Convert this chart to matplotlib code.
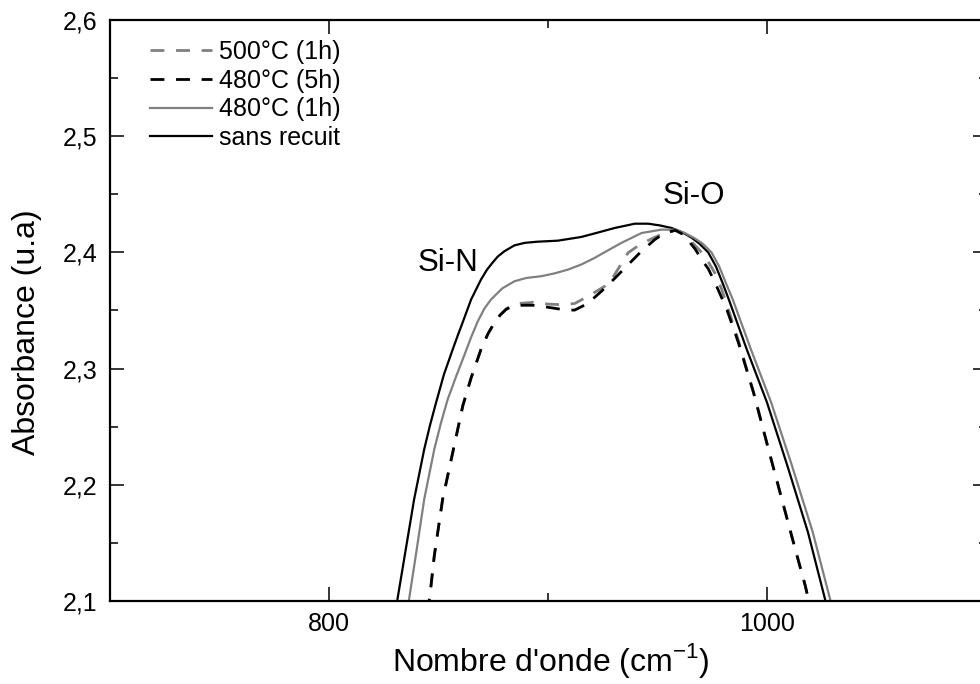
import matplotlib
matplotlib.use("Agg")
import matplotlib.pyplot as plt
from matplotlib.ticker import MultipleLocator, FuncFormatter

plt.rcParams["font.family"] = ["Liberation Sans", "DejaVu Sans"]
plt.rcParams["mathtext.fontset"] = "custom"
plt.rcParams["mathtext.rm"] = "Liberation Sans"

# Spectra (wavenumber in cm-1, absorbance)
x_sans = [829.5, 831.2, 835.0, 838.8, 843.4, 846.0, 848.7, 852.4, 856.4, 858.6, 860.6,
          864.8, 869.3, 872.0, 874.5, 877.0, 880.0, 884.5, 889.2, 895.0, 904.4, 915.1,
          922.5, 930.3, 939.5, 945.6, 951.0, 956.3, 961.0, 965.4, 969.0, 973.0, 976.5,
          979.5, 982.4, 990.6, 999.8, 1009.2, 1018.5, 1026.3, 1028.0]
y_sans = [2.080, 2.1017, 2.1447, 2.1876, 2.2306, 2.2510, 2.2700, 2.2950, 2.3165, 2.3280,
          2.3380, 2.3595, 2.3766, 2.3850, 2.3910, 2.3965, 2.4010, 2.4060, 2.4082, 2.4092,
          2.4101, 2.4133, 2.4170, 2.4210, 2.4247, 2.4247, 2.4232, 2.4210, 2.4175, 2.4127,
          2.4075, 2.4000, 2.3880, 2.3740, 2.3595, 2.3165, 2.2710, 2.2160, 2.1593, 2.1017,
          2.088]

x_480_1h = [834.8, 836.5, 840.0, 843.4, 848.0, 851.0, 854.1, 858.0, 861.7, 864.8, 867.8,
            870.8, 873.9, 879.0, 884.6, 890.0, 896.8, 903.0, 909.0, 915.0, 921.2, 927.0,
            933.4, 942.6, 951.7, 957.7, 962.0, 966.5, 970.5, 974.5, 978.0, 981.0, 984.2,
            992.5, 1001.7, 1011.3, 1020.7, 1028.6, 1030.3]
y_480_1h = [2.080, 2.1017, 2.1447, 2.1876, 2.2306, 2.2530, 2.2735, 2.2935, 2.3115, 2.3270,
            2.3405, 2.3515, 2.3595, 2.3690, 2.3752, 2.3780, 2.3795, 2.3820, 2.3852, 2.3895,
            2.3953, 2.4015, 2.4082, 2.4167, 2.4196, 2.4196, 2.4170, 2.4125, 2.4075, 2.4000,
            2.3880, 2.3740, 2.3595, 2.3165, 2.2710, 2.2160, 2.1593, 2.1017, 2.088]

x_480_5h = [845.0, 846.5, 848.0, 851.8, 856.4, 861.0, 864.8, 869.3, 872.5, 875.4, 878.0,
            880.8, 883.5, 886.1, 893.0, 899.8, 906.0, 912.0, 918.0, 924.3, 930.0, 935.7,
            942.0, 948.6, 953.2, 958.0, 961.0, 964.0, 967.0, 970.0, 973.0, 976.1, 981.5,
            986.8, 993.7, 1000.5, 1006.6, 1012.7, 1017.3, 1019.5]
y_480_5h = [2.090, 2.1132, 2.1390, 2.1876, 2.2277, 2.2680, 2.2920, 2.3165, 2.3300, 2.3394,
            2.3460, 2.3510, 2.3535, 2.3545, 2.3545, 2.3528, 2.3510, 2.3503, 2.3560, 2.3666,
            2.3770, 2.3880, 2.4000, 2.4110, 2.4167, 2.4190, 2.4160, 2.4100, 2.4030, 2.3938,
            2.3860, 2.3740, 2.3509, 2.3222, 2.2793, 2.2306, 2.1876, 2.1447, 2.1131, 2.095]

x_500_1h = [845.0, 846.5, 848.0, 851.8, 856.4, 861.0, 864.8, 869.3, 872.5, 875.4, 878.0,
            880.8, 883.5, 886.1, 893.0, 899.8, 906.0, 912.0, 918.0, 925.8, 930.0, 936.4,
            942.0, 948.6, 953.2, 958.0, 961.0, 964.0, 967.0, 970.0, 973.0, 976.1, 979.0,
            981.5, 986.8, 993.7, 1000.5, 1006.6, 1012.7, 1017.3, 1019.5]
y_500_1h = [2.090, 2.1132, 2.1390, 2.1876, 2.2277, 2.2680, 2.2920, 2.3165, 2.3300, 2.3394,
            2.3460, 2.3515, 2.3545, 2.3560, 2.3570, 2.3555, 2.3550, 2.3560, 2.3620, 2.3709,
            2.3800, 2.3996, 2.4070, 2.4130, 2.4167, 2.4190, 2.4170, 2.4120, 2.4060, 2.4000,
            2.3920, 2.3820, 2.3690, 2.3550, 2.3240, 2.2793, 2.2306, 2.1876, 2.1447, 2.1131,
            2.095]

labels = ["500°C (1h)", "480°C (5h)", "480°C (1h)", "sans recuit"]
gray = "#808080"

fig = plt.figure(figsize=(9.8, 6.84), dpi=100)
ax = fig.add_axes([110 / 980, 83 / 684, 876.5 / 980, 581 / 684])

l4, = ax.plot(x_sans, y_sans, color="black", lw=1.6)
l3, = ax.plot(x_480_1h, y_480_1h, color=gray, lw=1.6)
l1, = ax.plot(x_500_1h, y_500_1h, color=gray, lw=2.0, dashes=(5, 4.2))
l2, = ax.plot(x_480_5h, y_480_5h, color="black", lw=2.0, dashes=(5, 4.2))

ax.set_xlim(700, 1100)
ax.set_ylim(2.1, 2.6)

ax.xaxis.set_major_locator(MultipleLocator(200))
ax.xaxis.set_minor_locator(MultipleLocator(100))
ax.yaxis.set_major_locator(MultipleLocator(0.1))
ax.yaxis.set_minor_locator(MultipleLocator(0.05))
ax.yaxis.set_major_formatter(FuncFormatter(lambda v, p: f"{v:.1f}".replace(".", ",")))

ax.tick_params(which="both", direction="in", top=True, right=True, labelsize=18)
ax.tick_params(which="major", length=10, width=1.1)
ax.tick_params(which="minor", length=5.5, width=1.1)
ax.tick_params(axis="x", pad=8)
ax.tick_params(axis="y", pad=9)
for s in ax.spines.values():
    s.set_linewidth(1.6)

ax.set_xlabel("Nombre d'onde (cm$^{-1}$)", fontsize=23)
ax.set_ylabel("Absorbance (u.a)", fontsize=23)
ax.xaxis.set_label_coords(0.503, -0.0685)
ax.yaxis.set_label_coords(-0.0776, 0.463)

ax.text(854.2, 2.3912, "Si-N", fontsize=22.5, ha="center", va="center")
ax.text(966.4, 2.4488, "Si-O", fontsize=22.5, ha="center", va="center")

ax.legend([l1, l2, l3, l4], labels, loc="upper left", bbox_to_anchor=(0.0456, 0.966),
          frameon=False, fontsize=18, borderpad=0, borderaxespad=0,
          handlelength=2.47, handletextpad=0.29, labelspacing=0.19)

plt.savefig("out.png", dpi=100)
